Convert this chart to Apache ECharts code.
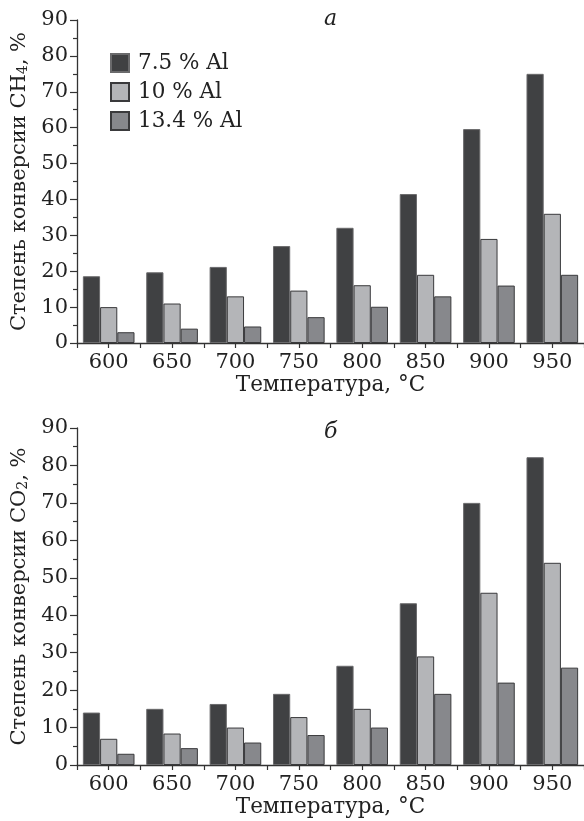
<!DOCTYPE html>
<html>
<head>
<meta charset="utf-8">
<script src="https://cdn.jsdelivr.net/npm/echarts@6/dist/echarts.min.js"></script>
<style>html,body{margin:0;padding:0;background:#fff}#c{width:584px;height:821px}</style>
</head>
<body>
<div id="c"></div>
<script>
// ---- data ----
const categories = ['600', '650', '700', '750', '800', '850', '900', '950'];
const seriesNames = ['7.5 % Al', '10 % Al', '13.4 % Al'];
const ch4_al75 = [18.6, 19.7, 21.2, 27.0, 32.1, 41.5, 59.6, 75.0];
const ch4_al10 = [10.0, 11.0, 13.0, 14.6, 16.1, 19.0, 29.0, 36.0];
const ch4_al134 = [3.0, 4.0, 4.6, 7.2, 10.1, 13.0, 16.0, 19.0];
const co2_al75 = [14.0, 15.0, 16.3, 19.0, 26.5, 43.2, 70.0, 82.2];
const co2_al10 = [7.0, 8.4, 10.0, 12.8, 15.0, 29.0, 46.0, 54.0];
const co2_al134 = [3.0, 4.5, 6.0, 8.0, 10.0, 19.0, 22.0, 26.0];
const yMin = 0, yMax = 90, yStep = 10;
const xName = 'Температура, °C';
const yNameTop = '{a|Степень конверсии CH}{s|4}{a|, %}';
const yNameBottom = '{a|Степень конверсии CO}{s|2}{a|, %}';
const panelLabels = ['а', 'б'];

// ---- styling ----
const FONT = 'DejaVu Serif';
const TXT = '#222';
const AX = '#333';
const fills = ['#404143', '#b4b5b8', '#87888c'];
const borders = ['#6a6a6c', '#3a3a3c', '#3a3a3c'];
const grids = [
  { left: 77, top: 20, width: 507, height: 323 },
  { left: 77, top: 428, width: 507, height: 337 }
];

function mainX(gi) {
  return {
    type: 'category', gridIndex: gi, data: categories, position: 'bottom',
    axisLine: { show: true, lineStyle: { color: AX, width: 1.3 } },
    axisTick: { show: true, alignWithLabel: false, length: 5, lineStyle: { color: AX, width: 1.2 } },
    axisLabel: { fontFamily: FONT, fontSize: 21, color: TXT, margin: 9 },
    name: xName, nameLocation: 'middle', nameGap: 31,
    nameTextStyle: { fontFamily: FONT, fontSize: 21.5, color: TXT },
    splitLine: { show: false }
  };
}
function centerX(gi) {
  return {
    type: 'category', gridIndex: gi, data: categories, position: 'bottom',
    axisLine: { show: false },
    axisTick: { show: true, alignWithLabel: true, length: 5, lineStyle: { color: AX, width: 1.2 } },
    axisLabel: { show: false },
    splitLine: { show: false }
  };
}
function yAx(gi, name) {
  return {
    type: 'value', gridIndex: gi, min: yMin, max: yMax, interval: yStep,
    axisLine: { show: true, lineStyle: { color: AX, width: 1.3 } },
    axisTick: { show: true, length: 7, lineStyle: { color: AX, width: 1.2 } },
    minorTick: { show: true, splitNumber: 2, length: 4, lineStyle: { color: AX, width: 1.2 } },
    axisLabel: { fontFamily: FONT, fontSize: 21, color: TXT, margin: 9 },
    splitLine: { show: false },
    name: name, nameLocation: 'middle', nameGap: 45,
    nameTextStyle: {
      fontFamily: FONT, color: TXT,
      rich: {
        a: { fontFamily: FONT, fontSize: 21, color: TXT, lineHeight: 24, verticalAlign: 'bottom' },
        s: { fontFamily: FONT, fontSize: 14, color: TXT, lineHeight: 10, verticalAlign: 'bottom' }
      }
    }
  };
}
function bar(name, data, k, xi, yi) {
  return {
    type: 'bar', name: name, data: data, xAxisIndex: xi, yAxisIndex: yi,
    barGap: '0%', barCategoryGap: '18.5%',
    itemStyle: { color: fills[k], borderColor: borders[k], borderWidth: 1 },
    emphasis: { disabled: true }, animation: false
  };
}

const chart = echarts.init(document.getElementById('c'), null, { renderer: 'canvas' });
chart.setOption({
  animation: false,
  backgroundColor: '#fff',
  grid: grids,
  xAxis: [mainX(0), centerX(0), mainX(1), centerX(1)],
  yAxis: [yAx(0, yNameTop), yAx(1, yNameBottom)],
  legend: {
    data: seriesNames, orient: 'vertical', left: 110, top: 52, padding: 0,
    itemWidth: 18, itemHeight: 18, itemGap: 7, icon: 'rect',
    textStyle: { fontFamily: FONT, fontSize: 21.5, color: TXT, padding: [0, 0, 0, 4] },
    selectedMode: false
  },
  graphic: [
    { type: 'text', left: 324, top: 8, style: { text: panelLabels[0], font: 'italic 22px "DejaVu Serif"', fill: TXT } },
    { type: 'text', left: 324, top: 421, style: { text: panelLabels[1], font: 'italic 22px "DejaVu Serif"', fill: TXT } }
  ],
  series: [
    bar(seriesNames[0], ch4_al75, 0, 0, 0),
    bar(seriesNames[1], ch4_al10, 1, 0, 0),
    bar(seriesNames[2], ch4_al134, 2, 0, 0),
    bar(seriesNames[0], co2_al75, 0, 2, 1),
    bar(seriesNames[1], co2_al10, 1, 2, 1),
    bar(seriesNames[2], co2_al134, 2, 2, 1)
  ]
});
</script>
</body>
</html>
